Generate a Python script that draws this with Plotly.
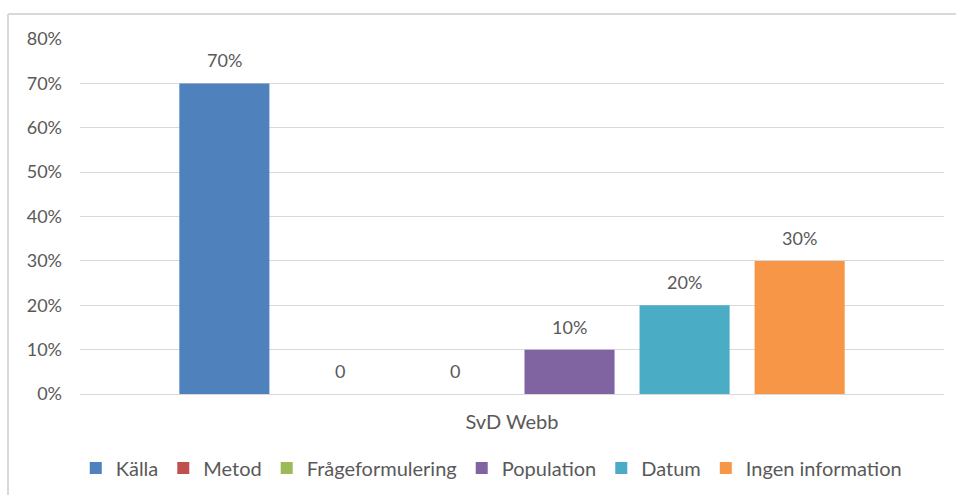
import plotly.graph_objects as go

categories = ["SvD Webb"]
series_names = ["Källa", "Metod", "Frågeformulering", "Population", "Datum", "Ingen information"]
series_values = [0.70, 0.0, 0.0, 0.10, 0.20, 0.30]
series_labels = ["70%", "0", "0", "10%", "20%", "30%"]
series_colors = ["#4f81bd", "#c0504d", "#9bbb59", "#8064a2", "#4bacc6", "#f79646"]
y_tick_values = [0, 0.1, 0.2, 0.3, 0.4, 0.5, 0.6, 0.7, 0.8]

FONT = "Lato"
TXT = "#595959"
GRID = "#d9d9d9"

fig = go.Figure()
for name, val, color in zip(series_names, series_values, series_colors):
    fig.add_trace(go.Bar(
        name=name, x=categories, y=[val],
        marker=dict(color=color, line=dict(width=0)),
        offsetgroup=name,
    ))

# value labels above each bar
n = len(series_names)
for i, (val, lab) in enumerate(zip(series_values, series_labels)):
    fig.add_annotation(
        x=categories[0], y=val, text=lab, showarrow=False,
        xref="x", yref="y", yanchor="middle", yshift=23,
        xshift=(i - (n - 1) / 2) * 115,
        font=dict(family=FONT, size=18, color=TXT),
    )

# chart frame lines (top and left edges)
fig.add_shape(type="line", xref="paper", yref="paper",
              x0=-72 / 864, x1=1.02, y0=1 + 25 / 355, y1=1 + 25 / 355,
              line=dict(color=GRID, width=2))
fig.add_shape(type="line", xref="paper", yref="paper",
              x0=-72 / 864, x1=-72 / 864, y0=-0.3, y1=1 + 25 / 355,
              line=dict(color=GRID, width=2))

fig.update_layout(
    width=956, height=495,
    margin=dict(l=80, r=12, t=39, b=101, autoexpand=False),
    paper_bgcolor="white", plot_bgcolor="white",
    barmode="group", bargap=0.201, bargroupgap=0.217,
    font=dict(family=FONT, size=18, color=TXT),
    showlegend=True,
    legend=dict(orientation="h", x=0.476, xanchor="center",
                yref="container", y=(495 - 468) / 495, yanchor="middle",
                font=dict(family=FONT, size=20, color=TXT),
                itemwidth=30, traceorder="normal"),
    xaxis=dict(showgrid=False, showline=True, linecolor=GRID, linewidth=1,
               ticks="", ticklabelstandoff=10, automargin=False,
               tickfont=dict(family=FONT, size=20, color=TXT)),
    yaxis=dict(range=[0, 0.8], tickvals=y_tick_values, tickformat=".0%",
               showgrid=True, gridcolor=GRID, gridwidth=1, zeroline=False,
               showline=False, ticks="", ticklabelstandoff=17, automargin=False,
               tickfont=dict(family=FONT, size=18, color=TXT)),
)

fig.write_html("out.html")
